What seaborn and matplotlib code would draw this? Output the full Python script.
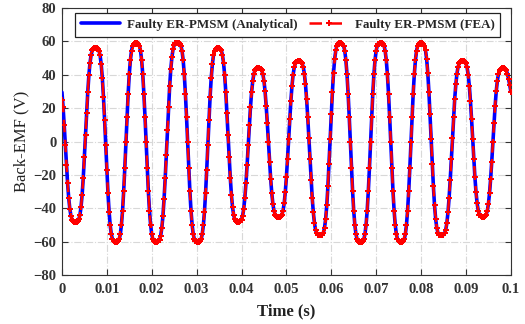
import numpy as np
import pandas as pd
import matplotlib
matplotlib.use("Agg")
import matplotlib.pyplot as plt
import seaborn as sns

# ---- data ----
sample_period = 0.00025  # s
emf_analytical = [
    29.6, 20.7, 9.9, -2.0, -13.9, -24.7, -33.6, -40.2, -44.5, -46.8, -47.8, -48.0, -48.0,
    -48.0, -47.7, -46.6, -44.0, -39.2, -31.8, -21.6, -9.4, 4.0, 17.4, 29.6, 39.8, 47.2, 52.0, 54.6, 55.7, 56.0, 56.0,
    56.0, 55.7, 54.5, 51.6, 46.2, 37.9, 26.6, 13.0, -2.0, -17.0, -30.6, -41.9, -50.2, -55.6, -58.5, -59.7, -60.0, -60.0,
    -60.0, -59.7, -58.5, -55.5, -49.9, -41.4, -29.8, -15.9, -0.5, 14.9, 28.8, 40.4, 48.9, 54.5, 57.5, 58.7, 59.0, 59.0,
    59.0, 58.7, 57.5, 54.5, 48.9, 40.4, 28.8, 14.9, -0.5, -15.9, -29.8, -41.4, -49.9, -55.5, -58.5, -59.7, -60.0, -60.0,
    -60.0, -59.8, -58.8, -56.3, -51.7, -44.5, -34.4, -22.0, -7.9, 6.9, 21.0, 33.4, 43.5, 50.7, 55.3, 57.8, 58.8, 59.0, 59.0,
    59.0, 58.7, 57.5, 54.5, 48.9, 40.4, 28.8, 14.9, -0.5, -15.9, -29.8, -41.4, -49.9, -55.5, -58.5, -59.7, -60.0, -60.0,
    -60.0, -59.7, -58.5, -55.6, -50.2, -41.9, -30.6, -17.0, -2.0, 13.0, 26.6, 37.9, 46.2, 51.6, 54.5, 55.7, 56.0, 56.0,
    56.0, 55.7, 54.6, 52.0, 47.2, 39.8, 29.6, 17.4, 4.0, -9.4, -21.6, -31.8, -39.2, -44.0, -46.6, -47.7, -48.0, -48.0,
    -48.0, -47.8, -46.8, -44.5, -40.2, -33.6, -24.7, -13.9, -2.0, 9.9, 20.7, 29.6, 36.2, 40.5, 42.8, 43.8, 44.0, 44.0,
    44.0, 43.8, 42.8, 40.6, 36.5, 30.1, 21.4, 11.0, -0.5, -12.0, -22.4, -31.1, -37.5, -41.6, -43.8, -44.8, -45.0, -45.0,
    -45.0, -44.8, -43.8, -41.5, -37.1, -30.5, -21.4, -10.5, 1.5, 13.5, 24.4, 33.5, 40.1, 44.5, 46.8, 47.8, 48.0, 48.0,
    48.0, 47.8, 46.9, 44.8, 40.8, 34.4, 25.6, 14.8, 2.4, -10.4, -22.8, -33.6, -42.4, -48.8, -52.8, -54.9, -55.8, -56.0, -56.0,
    -56.0, -55.7, -54.5, -51.6, -46.3, -38.1, -26.8, -13.3, 1.5, 16.3, 29.8, 41.1, 49.3, 54.6, 57.5, 58.7, 59.0, 59.0,
    59.0, 58.7, 57.5, 54.5, 48.9, 40.4, 28.8, 14.9, -0.5, -15.9, -29.8, -41.4, -49.9, -55.5, -58.5, -59.7, -60.0, -60.0,
    -60.0, -59.7, -58.5, -55.5, -49.9, -41.4, -29.8, -15.9, -0.5, 14.9, 28.8, 40.4, 48.9, 54.5, 57.5, 58.7, 59.0, 59.0,
    59.0, 58.7, 57.5, 54.5, 48.9, 40.4, 28.8, 14.9, -0.5, -15.9, -29.8, -41.4, -49.9, -55.5, -58.5, -59.7, -60.0, -60.0,
    -60.0, -59.7, -58.5, -55.5, -49.9, -41.4, -29.8, -15.9, -0.5, 14.9, 28.8, 40.4, 48.9, 54.5, 57.5, 58.7, 59.0, 59.0,
    59.0, 58.7, 57.5, 54.6, 49.3, 41.1, 29.8, 16.3, 1.5, -13.3, -26.8, -38.1, -46.3, -51.6, -54.5, -55.7, -56.0, -56.0,
    -56.0, -55.8, -54.9, -52.8, -48.8, -42.4, -33.6, -22.8, -10.4, 2.4, 14.8, 25.6, 34.4, 40.8, 44.8, 46.9, 47.8, 48.0, 48.0,
    48.0, 47.8, 46.8, 44.5, 40.1, 33.5, 24.4, 13.5, 1.5, -10.5, -21.4, -30.5, -37.1, -41.5, -43.8, -44.8, -45.0, -45.0,
    -45.0, -44.8, -43.8, -41.6, -37.5, -31.1, -22.4, -12.0, -0.5, 11.0, 21.4, 30.1, 36.5, 40.6, 42.8, 43.8, 44.0, 44.0,
    44.0, 43.8, 42.8, 40.5, 37.5, 34.0, 30.0,
]
emf_fea = list(emf_analytical)
emf_fea[0] = 25.0

series_labels = ["Faulty ER-PMSM (Analytical)", "Faulty ER-PMSM (FEA)"]
x_ticks = [0, 0.01, 0.02, 0.03, 0.04, 0.05, 0.06, 0.07, 0.08, 0.09, 0.1]
x_tick_labels = ["0", "0.01", "0.02", "0.03", "0.04", "0.05", "0.06", "0.07", "0.08", "0.09", "0.1"]
y_ticks = [-80, -60, -40, -20, 0, 20, 40, 60, 80]

time_s = np.arange(len(emf_analytical)) * sample_period
df = pd.DataFrame({"time": time_s, "analytical": emf_analytical, "fea": emf_fea})

# ---- style ----
sns.set_style("white")
plt.rcParams["font.family"] = ["Liberation Serif", "DejaVu Serif"]

fig = plt.figure(figsize=(5.25, 3.24), dpi=100)
ax = fig.add_axes([0.118, 0.151, 0.855, 0.824])

sns.lineplot(data=df, x="time", y="analytical", ax=ax, color="#0000FF",
             linewidth=2.6, label=series_labels[0], zorder=3)
sns.lineplot(data=df, x="time", y="fea", ax=ax, color="#FF0000",
             linewidth=1.8, linestyle=(0, (5, 3)), marker="P", markersize=4.8,
             markeredgewidth=0, label=series_labels[1], zorder=4)

ax.set_xlim(0, 0.1)
ax.set_ylim(-80, 80)
ax.set_xticks(x_ticks)
ax.set_xticklabels(x_tick_labels)
ax.set_yticks(y_ticks)

for lab in ax.get_xticklabels() + ax.get_yticklabels():
    lab.set_fontweight("bold")
    lab.set_fontsize(10.5)
    lab.set_color("#333333")

ax.set_xlabel("Time (s)", fontsize=12, fontweight="bold", color="#222222", labelpad=5)
ax.set_ylabel("Back-EMF (V)", fontsize=12, color="#222222", labelpad=3)

ax.grid(True, linestyle="-.", color="#d8d8d8", linewidth=0.8)
ax.set_axisbelow(True)
ax.tick_params(direction="in", length=4, width=0.8, top=True, right=True,
               bottom=True, left=True, color="#333333")
ax.tick_params(axis="x", pad=6)
ax.tick_params(axis="y", pad=4)
for s in ax.spines.values():
    s.set_visible(True)
    s.set_color("#333333")
    s.set_linewidth(0.8)

leg = ax.legend(loc="upper center", bbox_to_anchor=(0.503, 0.983), ncol=2,
                frameon=True, fancybox=False, edgecolor="#222222",
                prop={"family": ["Liberation Serif"], "weight": "bold", "size": 9.4},
                handlelength=3.0, columnspacing=0.9, handletextpad=0.5,
                borderpad=0.45, borderaxespad=0.0, framealpha=1)
leg.get_frame().set_linewidth(0.9)

fig.savefig("out.png", dpi=100)
